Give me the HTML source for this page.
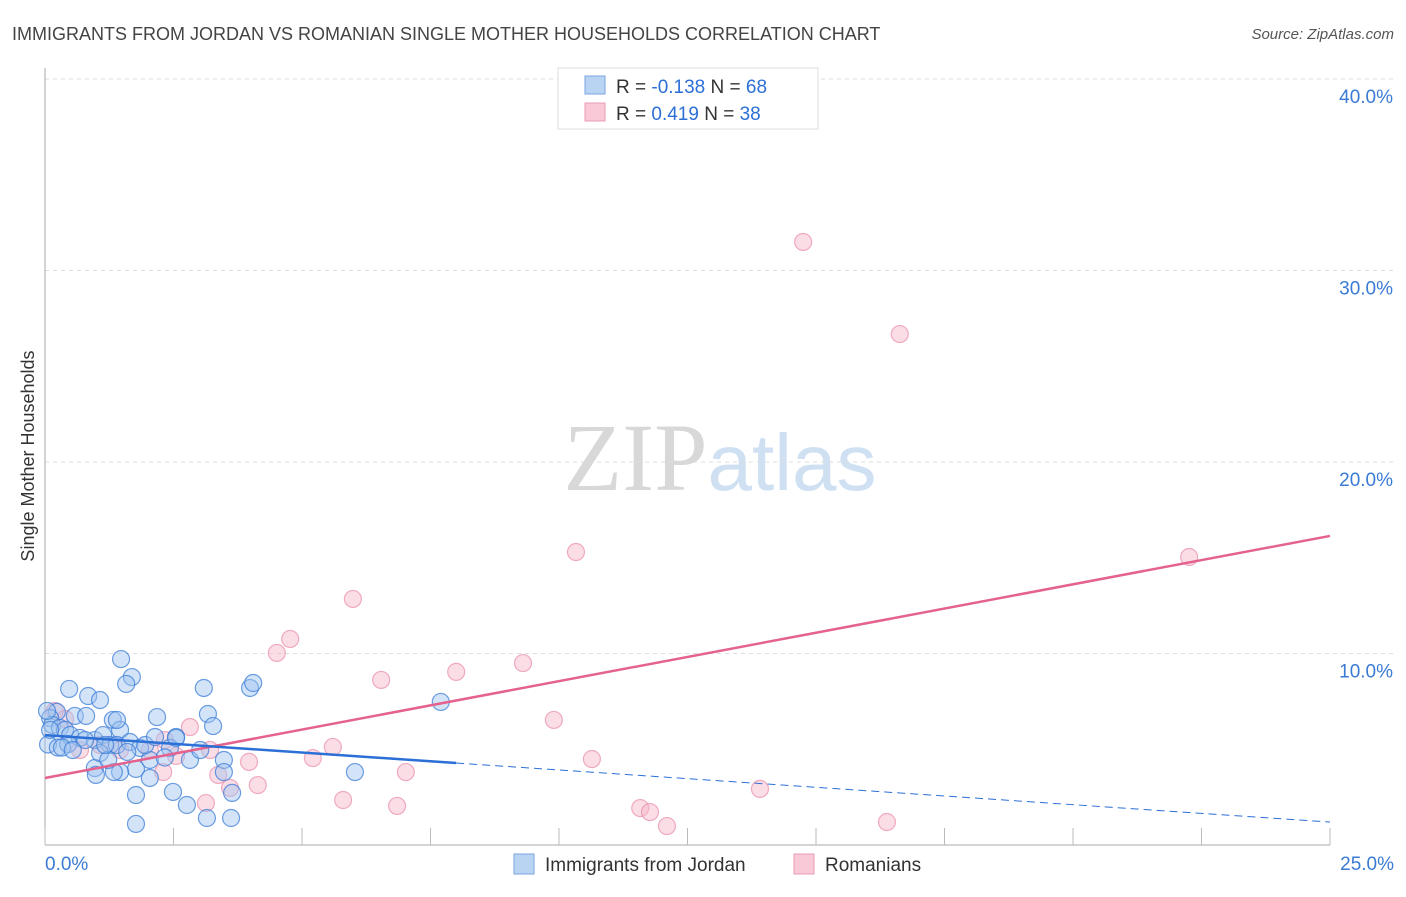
<!DOCTYPE html>
<html><head><meta charset="utf-8"><style>
body{margin:0;background:#fff;font-family:"Liberation Sans",sans-serif;}
svg text{font-family:"Liberation Sans",sans-serif;}
</style></head><body>
<svg id="chart" width="1406" height="892" xmlns="http://www.w3.org/2000/svg">
<text x="12" y="40" font-size="18" fill="#444">IMMIGRANTS FROM JORDAN VS ROMANIAN SINGLE MOTHER HOUSEHOLDS CORRELATION CHART</text>
<text x="1394" y="39" font-size="15" fill="#555" text-anchor="end" font-style="italic">Source: ZipAtlas.com</text>
<text x="720" y="490" font-size="96" text-anchor="middle" fill="#ddd"><tspan font-family="Liberation Serif" fill="#d8d8d8">ZIP</tspan><tspan fill="#cfe0f3" font-size="80">atlas</tspan></text>
<g id="grid"></g>
<g id="axes"></g>
<g id="points"></g>
<g id="lines"></g>
<text transform="translate(34,456) rotate(-90)" font-size="18" fill="#333" text-anchor="middle">Single Mother Households</text>
<g>
<rect x="558" y="68" width="260" height="61" fill="#fff" stroke="#ddd"/>
<rect x="585" y="76" width="20" height="18" fill="#b9d3f3" stroke="#7aa6e0"/>
<text x="616" y="93" font-size="19" fill="#333">R = <tspan fill="#2c6fd6">-0.138</tspan>   N = <tspan fill="#2c6fd6">68</tspan></text>
<rect x="585" y="103" width="20" height="18" fill="#f9c9d7" stroke="#eb9ab3"/>
<text x="616" y="120" font-size="19" fill="#333">R =  <tspan fill="#2c6fd6">0.419</tspan>   N = <tspan fill="#2c6fd6">38</tspan></text>
</g>
<g>
<rect x="514" y="854" width="20" height="20" fill="#b9d3f3" stroke="#7aa6e0"/>
<text x="545" y="871" font-size="19" fill="#333">Immigrants from Jordan</text>
<rect x="794" y="854" width="20" height="20" fill="#f9c9d7" stroke="#eb9ab3"/>
<text x="825" y="871" font-size="19" fill="#333">Romanians</text>
</g>
</svg>
<script>
const NS="http://www.w3.org/2000/svg";
const xTicks=[0,2.5,5,7.5,10,12.5,15,17.5,20,22.5,25];
const yTicks=[10,20,30,40];
const yTickLabels=["10.0%","20.0%","30.0%","40.0%"];
const jordanX=[1.48,1.69,1.58,0.47,0.84,1.07,3.09,3.99,4.05,3.17,3.27,2.18,0.58,0.80,1.32,1.46,0.23,0.10,0.14,0.29,0.39,0.49,0.68,0.97,1.13,1.27,1.40,1.65,1.85,2.04,1.95,2.55,2.43,2.33,2.82,3.48,3.48,2.55,1.77,2.04,0.97,1.46,0.99,1.34,1.77,2.49,2.76,3.15,3.64,3.62,1.77,6.03,7.70,0.06,0.25,1.07,0.78,0.45,0.33,0.04,0.10,1.23,1.60,2.14,3.02,0.54,1.17,1.40];
const jordanY=[9.71,8.77,8.41,8.15,7.78,7.57,8.20,8.20,8.46,6.84,6.21,6.68,6.74,6.74,6.53,6.01,6.95,6.63,6.27,6.11,6.01,5.74,5.59,5.48,5.74,5.22,5.22,5.38,5.07,4.44,5.22,5.64,5.07,4.57,4.44,4.44,3.81,5.59,3.97,3.50,4.02,3.81,3.66,3.81,2.61,2.77,2.09,1.41,2.72,1.41,1.10,3.81,7.47,5.25,5.09,4.80,5.48,5.27,5.09,7.00,6.01,4.44,4.86,5.64,4.96,4.96,5.22,6.53];
const romX=[14.75,16.63,10.33,22.26,5.99,4.77,4.51,6.54,8.00,9.30,9.90,5.60,5.21,10.64,7.02,3.97,3.37,4.14,5.80,6.85,11.58,11.77,12.10,13.91,16.38,3.13,3.60,2.82,2.30,2.55,2.04,1.46,0.68,0.19,0.39,1.07,2.33,3.21];
const romY=[31.49,26.68,15.30,15.04,12.85,10.76,10.03,8.62,9.04,9.50,6.53,5.12,4.54,4.49,3.81,4.34,3.66,3.13,2.35,2.04,1.93,1.72,0.99,2.93,1.20,2.19,2.98,6.16,3.81,4.65,4.96,4.96,4.96,7.00,6.58,5.22,5.48,4.96];
const jordanTrend=[[0,5.74],[8.0,4.28]], jordanDash=[[8.0,4.28],[25,1.20]];
const romTrend=[[0,3.50],[25,16.14]];
const X0=45,X1=1330,Y0=845,Y40=79;
const sx=v=>X0+(X1-X0)*v/25, sy=v=>Y0-(Y0-Y40)*v/40;
function mk(tag,attrs,parent){const e=document.createElementNS(NS,tag);for(const k in attrs)e.setAttribute(k,attrs[k]);document.getElementById(parent).appendChild(e);return e;}
yTicks.forEach((t,i)=>{
 const g=mk('line',{x1:X0,x2:1394,y1:sy(t),y2:sy(t),stroke:'#ddd','stroke-dasharray':'4,4'},'grid');
 
 
 const tx=mk('text',{x:1393,y:sy(t)+24,'font-size':19,fill:'#3a7bd5','text-anchor':'end'},'axes');
 tx.textContent=yTickLabels[i];
 
 
});
const ax=mk('line',{x1:X0,x2:X0,y1:68,y2:Y0,stroke:'#aaa'},'axes');


const bx=mk('line',{x1:X0,x2:X1,y1:Y0,y2:Y0,stroke:'#aaa'},'axes');


xTicks.forEach(t=>{
 const l=mk('line',{x1:sx(t),x2:sx(t),y1:828,y2:Y0,stroke:'#bbb'},'axes');
 
 
});
const xl=mk('text',{x:45,y:870,'font-size':19,fill:'#3a7bd5'},'axes');xl.textContent='0.0%';


const xr=mk('text',{x:1394,y:870,'font-size':19,fill:'#3a7bd5','text-anchor':'end'},'axes');xr.textContent='25.0%';


romX.forEach((v,i)=>{
 const c=mk('circle',{cx:sx(v),cy:sy(romY[i]),r:8.5,fill:'rgba(246,180,200,0.45)',stroke:'rgba(232,140,170,0.7)','stroke-width':1.2},'points');
 
 
});
jordanX.forEach((v,i)=>{
 const c=mk('circle',{cx:sx(v),cy:sy(jordanY[i]),r:8.5,fill:'rgba(160,196,240,0.45)',stroke:'rgba(60,125,215,0.75)','stroke-width':1.2},'points');
 
 
});
let l1=mk('line',{x1:sx(romTrend[0][0]),y1:sy(romTrend[0][1]),x2:sx(romTrend[1][0]),y2:sy(romTrend[1][1]),stroke:'#e4628d','stroke-width':2.5},'lines');


let l2=mk('line',{x1:sx(jordanTrend[0][0]),y1:sy(jordanTrend[0][1]),x2:sx(jordanTrend[1][0]),y2:sy(jordanTrend[1][1]),stroke:'#2c6fd6','stroke-width':2.5},'lines');


let l3=mk('line',{x1:sx(jordanDash[0][0]),y1:sy(jordanDash[0][1]),x2:sx(jordanDash[1][0]),y2:sy(jordanDash[1][1]),stroke:'#2c6fd6','stroke-width':1,'stroke-dasharray':'8,5'},'lines');


</script>
</body></html>
